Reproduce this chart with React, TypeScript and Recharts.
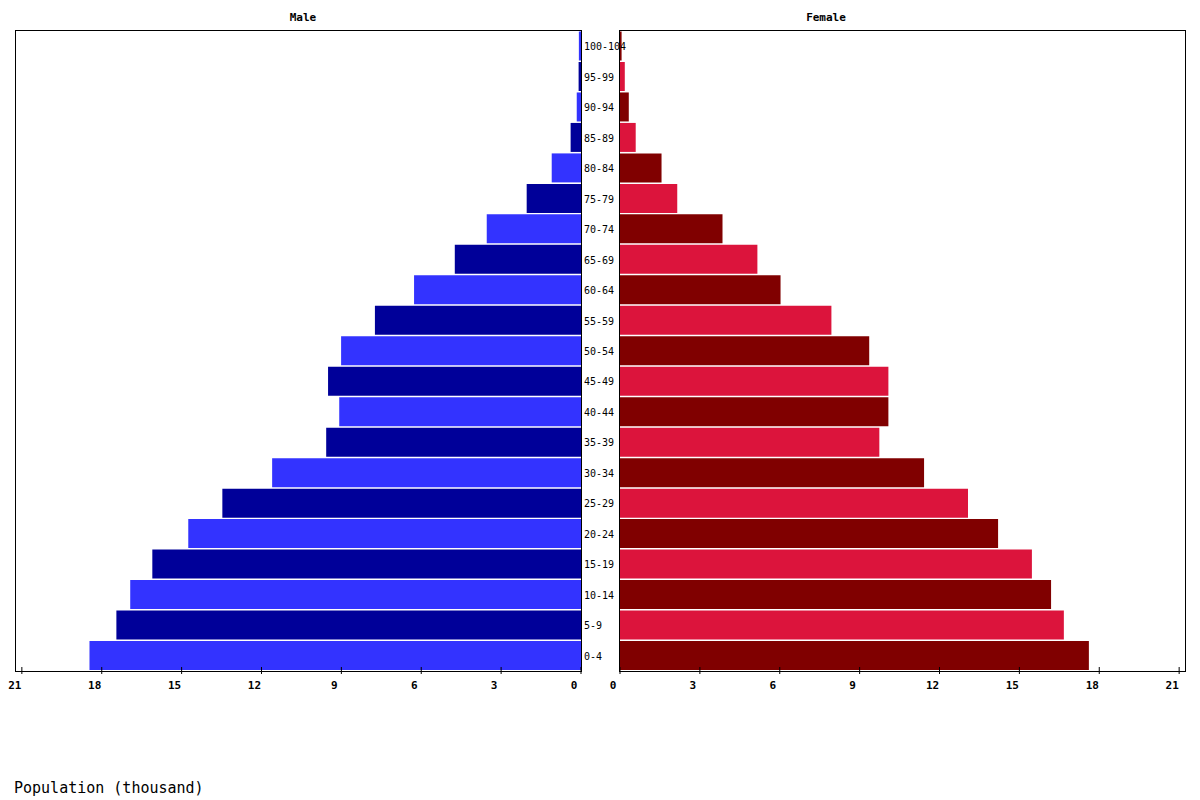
import { BarChart, Bar, XAxis, YAxis, Cell } from 'recharts';

// age groups, bottom (0-4) to top (100-104)
const ageGroups = [
  '0-4', '5-9', '10-14', '15-19', '20-24', '25-29', '30-34', '35-39', '40-44', '45-49',
  '50-54', '55-59', '60-64', '65-69', '70-74', '75-79', '80-84', '85-89', '90-94', '95-99', '100-104',
];
// thousands
const maleValues = [
  18.46, 17.45, 16.93, 16.1, 14.75, 13.47, 11.6, 9.57, 9.08, 9.5,
  9.01, 7.74, 6.27, 4.74, 3.54, 2.04, 1.1, 0.39, 0.16, 0.09, 0.08,
];
const femaleValues = [
  17.61, 16.67, 16.19, 15.47, 14.2, 13.07, 11.42, 9.74, 10.08, 10.08,
  9.36, 7.94, 6.03, 5.16, 3.85, 2.15, 1.56, 0.59, 0.33, 0.18, 0.06,
];
const axisTicks = [0, 3, 6, 9, 12, 15, 18, 21];

const maleColors = ['#3333ff', '#000099'];
const femaleColors = ['#800000', '#dc143c'];

const maleData = ageGroups.map((age, i) => ({ age, value: maleValues[i] }));
const femaleData = ageGroups.map((age, i) => ({ age, value: femaleValues[i] }));

const MONO = '"DejaVu Sans Mono", monospace';
const DOMAIN: [number, number] = [0, 21.22];

// eslint-disable-next-line @typescript-eslint/no-explicit-any
function NumTick({ x, y, payload }: any) {
  return (
    <g>
      <line x1={x} x2={x} y1={y - 9} y2={y - 5} stroke="#000" />
      <text x={x - 7} y={y + 13} textAnchor="middle" fontFamily={MONO} fontSize={11} fontWeight="bold" fill="#000">
        {payload.value}
      </text>
    </g>
  );
}

// eslint-disable-next-line @typescript-eslint/no-explicit-any
function AgeTick({ y, payload }: any) {
  return (
    <text x={24} y={y + 4} textAnchor="start" fontFamily={MONO} fontSize={10} fill="#000">
      {payload.value}
    </text>
  );
}

const frame = (left: number): React.CSSProperties => ({
  position: 'absolute', left, top: 30, width: 567, height: 642,
  border: '1px solid #000', boxSizing: 'border-box', pointerEvents: 'none',
});

export default function App() {
  return (
    <div style={{ position: 'absolute', left: 0, top: 0, width: 1200, height: 800, background: '#fff', fontFamily: MONO }}>
      <div style={{ position: 'absolute', left: 0, top: 0 }}>
        <BarChart width={600} height={701} data={maleData} layout="vertical"
          margin={{ top: 31, right: 19, left: 16, bottom: 0 }} barCategoryGap={0.5}>
          <XAxis type="number" domain={DOMAIN} ticks={axisTicks} reversed allowDataOverflow
            axisLine={false} tickSize={3} tickLine={{ stroke: '#000' }} height={30} tick={<NumTick />} />
          <YAxis type="category" dataKey="age" reversed hide />
          <Bar dataKey="value" isAnimationActive={false}>
            {maleData.map((d, i) => <Cell key={d.age} fill={maleColors[i % 2]} />)}
          </Bar>
        </BarChart>
      </div>
      <div style={{ position: 'absolute', left: 560, top: 0 }}>
        <BarChart width={640} height={701} data={femaleData} layout="vertical"
          margin={{ top: 31, right: 15, left: 19, bottom: 0 }} barCategoryGap={0.5}>
          <XAxis type="number" domain={DOMAIN} ticks={axisTicks} allowDataOverflow
            axisLine={false} tickSize={3} tickLine={{ stroke: '#000' }} height={30} tick={<NumTick />} />
          <YAxis type="category" dataKey="age" reversed width={41} axisLine={false} tickLine={false}
            interval={0} tick={<AgeTick />} />
          <Bar dataKey="value" isAnimationActive={false}>
            {femaleData.map((d, i) => <Cell key={d.age} fill={femaleColors[i % 2]} />)}
          </Bar>
        </BarChart>
      </div>
      <div style={frame(15)} />
      <div style={frame(619)} />
      <div style={{ position: 'absolute', left: 303, top: 11, transform: 'translateX(-50%)', fontSize: 11, fontWeight: 'bold' }}>Male</div>
      <div style={{ position: 'absolute', left: 826, top: 11, transform: 'translateX(-50%)', fontSize: 11, fontWeight: 'bold' }}>Female</div>
      <div style={{ position: 'absolute', left: 14, top: 779, fontSize: 15 }}>Population (thousand)</div>
    </div>
  );
}
